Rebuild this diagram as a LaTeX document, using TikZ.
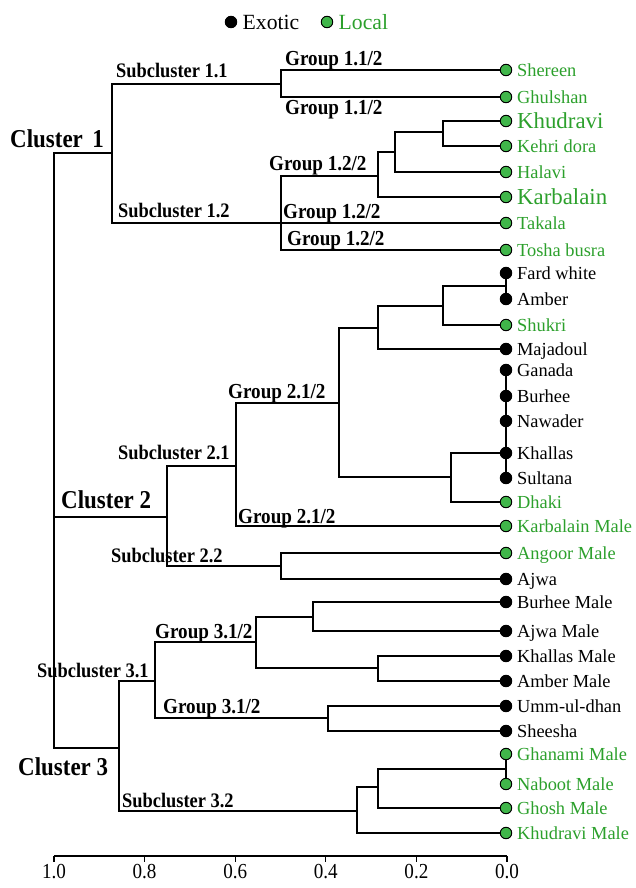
\documentclass[tikz,border=0pt]{standalone}
\usepackage{graphicx}
\usepackage{fontspec}
\setmainfont{Liberation Serif}
\usetikzlibrary{positioning}
\definecolor{localtext}{RGB}{44,160,44}
\definecolor{localfill}{RGB}{64,182,74}

\begin{document}
\begin{tikzpicture}[x=0.03cm, y=-0.03cm]
  \tikzset{
   branch/.style={line width=.9pt},
   dot/.style={circle, draw=black, line width=.8pt, minimum size=9.8pt, inner sep=0pt},
   exoticdot/.style={dot, fill=black},
   localdot/.style={dot, fill=localfill},
   leaf/.style={font=\fontsize{15.7}{16}\selectfont, inner sep=0pt, text height=10.4pt, text depth=0pt},
   ename/.style={leaf},
   lname/.style={leaf, text=localtext},
   lbig/.style={lname, font=\fontsize{19.5}{20}\selectfont, text height=12.9pt},
   grp/.style={font=\bfseries\fontsize{16.3}{17}\selectfont, anchor=base west, inner sep=0pt},
   sub/.style={grp, font=\bfseries\fontsize{15.7}{16}\selectfont},
   clu/.style={grp, font=\bfseries\fontsize{19.6}{20}\selectfont},
   axis/.style={font=\fontsize{16.3}{17}\selectfont, inner sep=0pt},
  }
  \useasboundingbox (0, 0) rectangle (635, 888);

  \node [exoticdot] (kex) at (231, 22) {};
  \node [ename, font=\fontsize{18.5}{19}\selectfont, text height=12.2pt, right=4.5pt of kex] (tex) {Exotic};
  \node [localdot] (klo) at (327, 22) {};
  \node [lname, font=\fontsize{18.5}{19}\selectfont, text height=12.2pt, right=4.5pt of klo] (tlo) {Local};

  \foreach \name/\y/\kind/\txt [count=\i] in {
   Shereen/70/localdot/lname,
   Ghulshan/97/localdot/lname,
   Khudravi/121/localdot/lbig,
   Kehri dora/146/localdot/lname,
   Halavi/172/localdot/lname,
   Karbalain/197/localdot/lbig,
   Takala/223/localdot/lname,
   Tosha busra/250/localdot/lname,
   Fard white/273/exoticdot/ename,
   Amber/299/exoticdot/ename,
   Shukri/325/localdot/lname,
   Majadoul/349/exoticdot/ename,
   Ganada/370/exoticdot/ename,
   Burhee/396/exoticdot/ename,
   Nawader/421/exoticdot/ename,
   Khallas/453/exoticdot/ename,
   Sultana/478/exoticdot/ename,
   Dhaki/502/localdot/lname,
   Karbalain Male/526/localdot/lname,
   Angoor Male/553/localdot/lname,
   Ajwa/579/exoticdot/ename,
   Burhee Male/602/exoticdot/ename,
   Ajwa Male/631/exoticdot/ename,
   Khallas Male/656/exoticdot/ename,
   Amber Male/681/exoticdot/ename,
   Umm-ul-dhan/706/exoticdot/ename,
   Sheesha/731/exoticdot/ename,
   Ghanami Male/754/localdot/lname,
   Naboot Male/784/localdot/lname,
   Ghosh Male/808/localdot/lname,
   Khudravi Male/833/localdot/lname} {
   \node [\kind] (l\i) at (506, \y) {};
   \node [\txt, right=4pt of l\i] (t\i) {\name};
  }

  \foreach \n/\x/\y in {
   k11/443/132, k12/395/152, k13/378/176, g11/281/84, g12/281/223, c1/112/153,
   m1/506/286, m2/443/306, m3/378/328, m4/451/477, m5/339/403,
   s21/236/466, s22/281/566, c2/167/517,
   n1/313/617, n2/378/668, n3/256/642, n4/328/718, s31/155/681,
   n5/506/769, n6/378/787, s32/357/811, c3/119/748,
   root/54/517} {
   \coordinate (\n) at (\x, \y);
  }

  \foreach \p/\c in {
   g11/l1, g11/l2, k11/l3, k11/l4, k12/k11, k12/l5, k13/k12, k13/l6,
   g12/k13, g12/l7, g12/l8, c1/g11, c1/g12,
   m2/m1, m2/l11, m3/m2, m3/l12, m4/l16, m4/l18, m5/m3, m5/m4,
   s21/m5, s21/l19, s22/l20, s22/l21, c2/s21, c2/s22,
   n1/l22, n1/l23, n2/l24, n2/l25, n3/n1, n3/n2, n4/l26, n4/l27,
   s31/n3, s31/n4, n6/n5, n6/l30, s32/n6, s32/l31, c3/s31, c3/s32,
   root/c1, root/c2, root/c3} {
   \draw [branch] (\p) |- (\c);
  }
  \draw [branch] (l9) -- (l10) (l13) -- (l14) -- (l15) -- (l16) -- (l17) (l28) -- (l29);

  \foreach \style/\x/\y/\text [count=\i] in {
   grp/285/65/{Group 1.1/2},
   grp/285/114/{Group 1.1/2},
   grp/269/170/{Group 1.2/2},
   grp/283/218/{Group 1.2/2},
   grp/287/245/{Group 1.2/2},
   grp/228/398/{Group 2.1/2},
   grp/238/523/{Group 2.1/2},
   grp/155/638/{Group 3.1/2},
   grp/163/713/{Group 3.1/2},
   sub/116/77/{Subcluster 1.1},
   sub/118/217/{Subcluster 1.2},
   sub/118/459/{Subcluster 2.1},
   sub/111/562/{Subcluster 2.2},
   sub/37/677/{Subcluster 3.1},
   sub/122/807/{Subcluster 3.2},
   clu/10/147/{Cluster~\,1},
   clu/61/508/{Cluster 2},
   clu/18/775/{Cluster 3}} {
   \node [\style] (g\i) at (\x, \y) {\scalebox{1}[1.12]{\text}};
  }

  \coordinate (a0) at (54, 856);
  \coordinate (a1) at (507, 856);
  \draw [branch] (a0) -- (a1);
  \foreach \v [count=\i] in {1.0, 0.8, 0.6, 0.4, 0.2, 0.0} {
   \pgfmathsetmacro{\x}{507 - 453*\v}
   \draw [branch] (\x, 856) -- (\x, 862) node [axis, below=1.5pt] (v\i) {\scalebox{1}[1.12]{\v}};
  }
\end{tikzpicture}
\end{document}
